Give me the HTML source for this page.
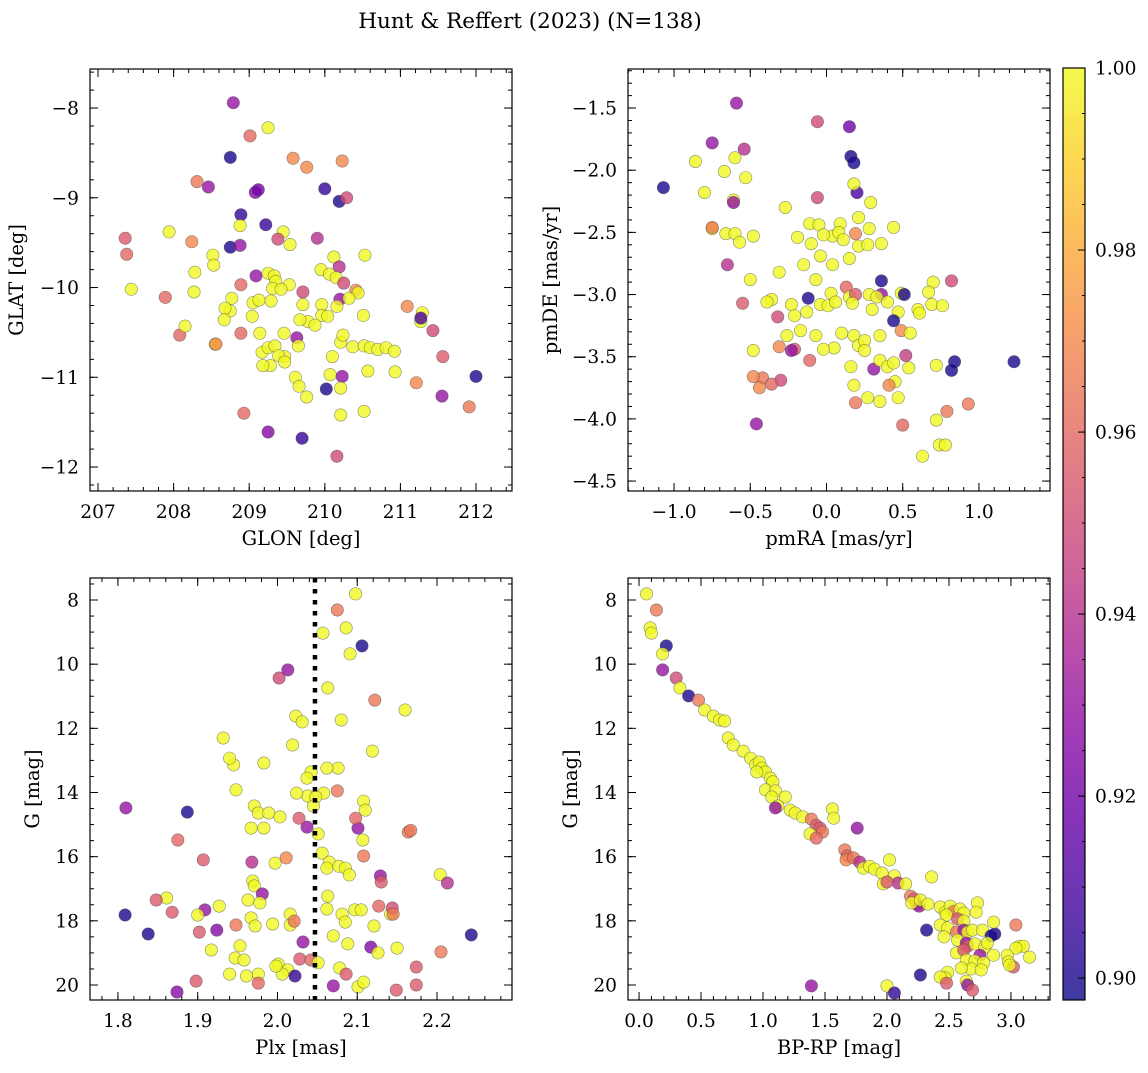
<!DOCTYPE html>
<html><head><meta charset="utf-8"><style>
html,body{margin:0;padding:0;background:#fff}
svg text{font-family:"DejaVu Serif","Liberation Serif",serif;fill:#000}
</style></head><body>
<svg id="fig" width="1148" height="1068" viewBox="0 0 1148 1068" xmlns="http://www.w3.org/2000/svg">
<defs><linearGradient id="cbgrad" x1="0" y1="1" x2="0" y2="0"></linearGradient></defs>
<text x="530" y="28" font-size="21.5" text-anchor="middle">Hunt &amp; Reffert (2023) (N=138)</text>
</svg>
<script>
// ---- data: top-left (GLON, GLAT) ----
const tlGlon=[208.79,209.01,209.25,208.75,209.58,209.76,210.23,208.31,208.46,209.08,209.12,210.00,210.19,210.29,208.89,209.22,207.36,207.38,207.44,207.94,208.24,208.75,208.88,208.88,209.45,209.38,209.54,209.90,208.52,208.53,208.28,209.09,208.89,209.25,209.33,209.35,209.53,209.31,209.42,210.12,210.19,209.95,210.06,210.15,210.25,210.53,210.41,210.44,207.89,208.27,208.77,208.75,208.68,208.67,209.05,209.04,209.13,209.29,209.71,209.71,209.78,209.96,209.96,210.20,210.32,210.16,210.51,208.08,208.15,208.55,208.89,209.14,209.46,209.67,209.87,210.04,211.09,211.29,211.27,211.27,211.43,208.56,209.17,209.25,209.34,209.47,209.28,209.39,209.63,209.65,210.21,210.24,210.10,210.37,210.52,210.60,210.70,210.81,210.92,211.56,209.18,209.47,209.61,210.07,210.23,210.57,210.93,209.66,209.76,210.02,210.21,211.21,212.00,208.93,210.21,210.52,211.55,211.91,209.25,209.70,210.16];
const tlGlat=[-7.94,-8.31,-8.22,-8.55,-8.56,-8.66,-8.59,-8.82,-8.88,-8.94,-8.91,-8.90,-9.04,-9.00,-9.19,-9.30,-9.45,-9.63,-10.02,-9.38,-9.49,-9.55,-9.53,-9.31,-9.38,-9.46,-9.52,-9.45,-9.64,-9.75,-9.83,-9.87,-9.97,-9.84,-9.87,-9.93,-9.97,-10.01,-10.02,-9.66,-9.77,-9.80,-9.85,-9.89,-9.95,-9.64,-10.03,-10.06,-10.11,-10.05,-10.12,-10.26,-10.23,-10.36,-10.17,-10.32,-10.14,-10.15,-10.05,-10.19,-10.38,-10.19,-10.31,-10.13,-10.12,-10.21,-10.31,-10.53,-10.43,-10.63,-10.51,-10.51,-10.51,-10.36,-10.42,-10.32,-10.21,-10.28,-10.38,-10.34,-10.48,-10.63,-10.72,-10.67,-10.65,-10.77,-10.87,-10.76,-10.56,-10.65,-10.61,-10.53,-10.77,-10.66,-10.65,-10.67,-10.69,-10.67,-10.71,-10.77,-10.87,-10.83,-11.00,-10.97,-10.99,-10.93,-10.94,-11.10,-11.22,-11.13,-11.12,-11.06,-10.99,-11.40,-11.42,-11.38,-11.21,-11.33,-11.61,-11.68,-11.88];
const tlProb=[.93,.96,1,.90,.97,.97,.97,.965,.93,.925,.92,.905,.90,.95,.905,.905,.955,.96,1,1,.97,.90,.93,1,1,.95,1,.94,1,1,1,.93,.96,1,1,1,1,1,1,1,.94,1,1,1,.95,1,.97,1,.96,1,1,1,1,1,1,1,1,1,.95,1,1,1,1,.93,1,1,1,.96,1,1,.96,1,1,1,1,1,.97,1,1,.91,.95,.97,1,1,1,1,1,1,.93,1,1,1,1,1,1,1,1,1,1,.955,1,1,1,1,.93,1,1,1,1,.90,1,.97,.90,.96,1,1,.93,.965,.925,.905,.95];
// ---- data: top-right (pmRA, pmDE) ----
const trPmra=[-0.59,-0.75,-1.07,-0.86,-0.80,-0.54,-0.60,-0.53,-0.67,-0.61,-0.06,0.15,0.16,0.18,0.20,0.18,-0.75,-0.48,-0.66,-0.60,-0.57,-0.61,-0.06,-0.27,-0.11,-0.05,-0.19,0.04,0.09,-0.10,-0.02,0.08,0.11,0.21,0.19,0.29,0.28,0.21,0.27,-0.75,-0.65,-0.50,-0.31,-0.15,-0.04,0.04,0.15,0.36,0.44,-0.55,-0.36,-0.12,0.03,-0.07,0.13,0.15,0.19,0.28,0.36,0.36,0.49,0.51,0.70,0.67,0.82,-0.39,-0.32,-0.23,-0.21,-0.13,-0.04,0.01,0.06,0.17,0.30,0.33,0.40,0.47,0.60,0.61,0.69,0.76,0.44,-0.17,-0.26,-0.07,0.10,0.18,0.21,0.25,0.35,0.49,0.55,-0.48,-0.31,-0.21,-0.23,0.05,-0.02,0.25,0.52,0.84,0.82,-0.30,-0.42,-0.11,0.16,0.31,0.35,0.40,0.44,0.45,0.54,0.72,-0.48,-0.44,-0.36,0.18,0.19,0.27,0.35,0.47,1.23,0.79,0.72,0.93,-0.46,0.50,0.74,0.78,0.63,0.41];
const trPmde=[-1.46,-1.78,-2.14,-1.93,-2.18,-1.83,-1.90,-2.06,-2.01,-2.24,-1.61,-1.65,-1.89,-1.94,-2.18,-2.11,-2.47,-2.53,-2.51,-2.51,-2.58,-2.26,-2.22,-2.30,-2.43,-2.44,-2.54,-2.53,-2.43,-2.59,-2.52,-2.50,-2.56,-2.38,-2.51,-2.26,-2.47,-2.61,-2.60,-2.46,-2.76,-2.88,-2.82,-2.76,-2.69,-2.76,-2.71,-2.59,-2.46,-3.07,-3.04,-3.03,-2.99,-2.88,-2.94,-3.02,-3.00,-3.00,-2.89,-3.00,-2.99,-3.00,-2.90,-2.98,-2.89,-3.06,-3.18,-3.08,-3.17,-3.14,-3.08,-3.09,-3.06,-3.07,-3.12,-3.02,-3.06,-3.14,-3.12,-3.15,-3.08,-3.09,-3.21,-3.29,-3.33,-3.33,-3.31,-3.33,-3.41,-3.37,-3.33,-3.29,-3.31,-3.45,-3.42,-3.44,-3.45,-3.43,-3.44,-3.45,-3.49,-3.54,-3.61,-3.69,-3.67,-3.53,-3.58,-3.60,-3.53,-3.58,-3.55,-3.70,-3.59,-3.57,-3.66,-3.75,-3.72,-3.73,-3.87,-3.83,-3.86,-3.83,-3.54,-3.94,-4.01,-3.88,-4.04,-4.05,-4.21,-4.21,-4.30,-3.73];
const trProb=[.93,.93,.90,1,1,.94,1,1,1,1,.95,.92,.90,.90,.91,1,1,1,1,1,1,.93,.95,1,1,1,1,1,1,1,1,1,1,1,.97,1,1,1,1,.965,.94,1,1,1,1,1,1,1,1,.955,1,.90,1,1,.96,1,.955,1,.90,.93,1,.90,1,1,.95,1,.95,1,1,1,1,1,1,1,1,1,1,1,1,1,1,1,.90,1,1,1,1,1,1,1,1,.97,1,1,.97,.955,.93,1,1,1,.945,.90,.90,.95,.965,.96,1,.93,1,1,1,1,1,1,.97,.97,.96,1,.965,1,1,1,.90,.965,1,.965,.93,.96,1,1,1,.97];
// ---- data: bottom-left (Plx, G) ----
const blPlx=[2.098,2.075,2.086,2.057,2.106,2.091,2.002,2.013,2.063,2.122,2.160,2.080,2.023,2.031,2.119,1.932,2.019,1.983,1.945,1.940,2.076,2.062,2.042,2.037,1.948,2.058,2.038,2.024,2.048,2.075,2.108,1.887,1.810,1.971,1.976,1.989,2.045,2.110,2.037,2.101,1.983,2.051,2.027,2.098,2.003,1.875,1.907,1.967,2.107,1.968,1.997,2.011,2.056,2.065,2.062,2.077,2.085,2.108,2.164,2.167,2.204,2.090,1.969,1.971,1.981,2.129,2.130,2.213,1.861,2.063,1.848,1.868,1.909,1.927,1.963,1.978,2.016,1.948,1.967,1.972,2.016,1.994,2.021,2.081,2.085,2.062,2.097,2.105,2.127,2.142,2.144,2.145,1.809,1.900,2.121,1.902,1.924,1.917,1.953,2.032,2.070,2.088,2.117,2.126,2.150,2.205,2.243,1.838,2.001,2.028,2.042,1.947,1.958,1.940,1.976,1.961,2.013,2.051,2.078,2.086,2.006,2.022,2.070,2.101,2.108,1.976,1.898,1.874,2.149,2.174,2.174,1.998];
const blG=[7.81,8.31,8.87,9.03,9.43,9.68,10.43,10.18,10.74,11.12,11.43,11.74,11.62,11.80,12.71,12.30,12.52,13.08,13.14,12.93,13.24,13.24,13.36,13.55,13.92,14.02,14.11,14.02,14.14,13.95,14.27,14.61,14.48,14.42,14.64,14.64,14.42,14.55,15.08,15.11,15.11,15.29,14.80,14.80,14.76,15.48,16.10,15.11,15.48,16.17,16.20,16.04,15.89,16.17,16.36,16.30,16.36,15.98,15.23,15.18,16.56,16.57,16.76,16.91,17.16,16.60,16.79,16.82,17.29,17.23,17.35,17.73,17.66,17.54,17.35,17.44,17.79,18.13,17.91,18.16,18.13,18.10,18.01,17.79,18.04,17.63,17.66,17.66,17.54,17.79,17.60,17.79,17.82,17.82,18.16,18.35,18.29,18.91,18.78,18.66,18.47,18.72,18.82,19.00,18.85,18.97,18.44,18.41,19.35,19.19,19.22,19.16,19.22,19.66,19.66,19.72,19.53,19.31,19.47,19.66,19.66,19.72,20.03,20.06,19.91,19.94,19.88,20.22,20.16,20.00,19.44,19.41];
const blProb=[1,.965,1,1,.90,1,.95,.93,1,.965,1,1,1,1,1,1,1,1,1,1,1,1,1,1,1,1,1,1,1,.965,1,.90,.93,1,1,1,1,1,.93,.93,1,1,.955,.96,1,.96,.955,1,1,.94,1,.97,1,1,1,1,1,.965,.965,.965,1,1,1,1,.93,.93,.955,.94,1,1,.955,.955,.93,1,1,1,1,.965,1,1,1,1,.965,1,1,1,1,1,.96,1,.95,.965,.90,1,1,.955,.925,1,1,.93,1,1,.925,1,1,.965,.90,.90,1,.955,.96,1,1,1,1,1,1,1,1,.955,1,.905,.93,1,1,.96,.955,.925,.955,.955,.955,1];
// ---- data: bottom-right (BP-RP, G) ----
const brBprp=[0.06,0.14,0.09,0.10,0.22,0.19,0.19,0.30,0.33,0.40,0.48,0.53,0.60,0.65,0.69,0.72,0.76,0.84,0.90,0.94,0.97,0.99,1.02,0.95,1.06,1.08,1.02,1.10,1.07,1.18,1.12,1.10,1.22,1.26,1.32,1.39,1.56,1.57,1.43,1.46,1.48,1.38,1.43,1.76,1.66,1.68,1.67,1.73,1.78,1.81,1.86,1.90,1.96,2.02,2.06,2.09,1.97,2.00,2.15,2.36,2.19,2.22,2.24,2.26,2.20,2.27,2.33,2.43,2.47,2.51,2.54,2.59,2.62,2.73,2.48,2.57,2.62,2.72,2.43,2.49,2.56,2.62,2.65,2.69,2.77,2.87,2.84,2.86,3.04,2.32,2.46,2.57,2.64,2.65,2.71,2.79,2.81,3.07,3.10,3.04,2.56,2.62,2.75,2.86,2.97,3.15,2.64,2.71,2.78,2.98,3.02,2.99,2.68,2.76,2.49,2.60,2.47,2.43,2.27,2.48,2.64,2.65,2.69,2.00,2.06,1.39];
const brG=[7.81,8.31,8.87,9.03,9.43,9.68,10.18,10.43,10.74,10.99,11.12,11.43,11.62,11.74,11.77,12.30,12.52,12.71,12.93,13.14,13.05,13.24,13.36,13.36,13.55,13.67,13.92,13.95,14.14,14.14,14.42,14.48,14.55,14.64,14.76,14.83,14.51,14.80,15.02,15.11,15.23,15.29,15.42,15.11,15.79,15.98,16.10,16.04,16.17,16.36,16.30,16.39,16.51,16.10,16.60,16.82,16.85,16.79,16.85,16.63,17.23,17.32,17.48,17.54,17.44,17.35,17.48,17.57,17.73,17.54,17.70,17.63,17.76,17.44,17.82,17.94,18.01,17.73,18.13,18.22,18.35,18.29,18.35,18.29,18.29,18.41,18.47,18.04,18.13,18.29,18.50,18.60,18.69,18.79,18.72,18.82,18.69,18.79,18.79,18.85,19.00,18.91,19.07,19.07,19.07,19.13,19.22,19.25,19.31,19.28,19.44,19.38,19.50,19.53,19.60,19.47,19.78,19.75,19.69,19.94,19.88,20.00,20.16,20.03,20.25,20.03];
const brProb=[1,.965,1,1,.90,1,.93,.95,1,.90,.965,1,1,1,1,1,1,1,1,1,1,1,1,1,1,1,1,1,1,1,1,.93,1,1,1,.965,1,1,.955,.955,.965,1,.96,.93,.965,.96,.97,.965,.94,1,1,1,1,1,1,.94,1,.955,1,1,.965,.955,.965,.93,1,1,1,1,1,1,.965,1,1,1,1,.955,1,1,1,1,.965,.93,1,1,1,.90,.90,1,.965,.90,1,1,.93,.955,1,1,1,1,1,1,1,.955,.93,1,1,1,1,1,1,1,.955,1,1,1,1,1,1,1,.90,.955,1,.93,.955,1,.905,.93];
// ---- colorbar ticks ----
const cbTicks=[0.90,0.92,0.94,0.96,0.98,1.00];
const vmin=0.8976, vmax=1.0;

const NS='http://www.w3.org/2000/svg';
const svg=document.getElementById('fig');
function mk(tag,attrs,parent){const e=document.createElementNS(NS,tag);for(const k in attrs)e.setAttribute(k,attrs[k]);(parent||svg).appendChild(e);return e;}
const plasma=[[13,8,135],[65,4,157],[106,0,168],[143,13,164],[177,42,144],[204,71,120],[225,100,98],[242,132,75],[252,166,54],[252,206,37],[240,249,33]];
function cmap(t){t=Math.max(0,Math.min(1,t));const s=t*10,i=Math.min(9,Math.floor(s)),f=s-i;const a=plasma[i],b=plasma[i+1];return 'rgb('+a.map((v,k)=>Math.round(v+(b[k]-v)*f)).join(',')+')';}
const FS=18.6, FL=19.4;
function panel(cfg){
  const g=mk('g',{});
  
  
  const {x0,y0,w,h,xr,yr,inv}=cfg;
  const sx=v=>x0+(v-xr[0])/(xr[1]-xr[0])*w;
  const sy=inv?(v=>y0+(v-yr[0])/(yr[1]-yr[0])*h):(v=>y0+h-(v-yr[0])/(yr[1]-yr[0])*h);
  const pg=mk('g',{},g);
  
  
  for(let i=0;i<cfg.xs.length;i++){
    const c=mk('circle',{cx:sx(cfg.xs[i]).toFixed(1),cy:sy(cfg.ys[i]).toFixed(1),r:6.2,fill:cmap((cfg.ps[i]-vmin)/(vmax-vmin)),'fill-opacity':0.8,stroke:'#444','stroke-opacity':0.6,'stroke-width':0.6},pg);
    
    
  }
  if(cfg.vline!==undefined){
    const l=mk('line',{x1:sx(cfg.vline),x2:sx(cfg.vline),y1:y0,y2:y0+h,stroke:'#000','stroke-width':4.5,'stroke-dasharray':'4.5,6.5'},g);
    
    
  }
  const fr=mk('rect',{x:x0,y:y0,width:w,height:h,fill:'none',stroke:'#000','stroke-width':1.2},g);
  
  
  const eps=1e-9;
  function ticks(axis,step,len,labels,dec){
    const r=axis==='x'?xr:yr;
    const lo=Math.min(r[0],r[1]),hi=Math.max(r[0],r[1]);
    for(let k=Math.ceil(lo/step-eps);k*step<=hi+eps;k++){
      const v=k*step;
      if(axis==='x'){const X=sx(v);mk('line',{x1:X,x2:X,y1:y0+h,y2:y0+h-len,stroke:'#000','stroke-width':1},g);mk('line',{x1:X,x2:X,y1:y0,y2:y0+len,stroke:'#000','stroke-width':1},g);
        if(labels){const t=mk('text',{x:X,y:y0+h+27,'font-size':FS,'text-anchor':'middle'},g);t.textContent=fmt(v,dec);}}
      else{const Y=sy(v);mk('line',{x1:x0,x2:x0+len,y1:Y,y2:Y,stroke:'#000','stroke-width':1},g);mk('line',{x1:x0+w,x2:x0+w-len,y1:Y,y2:Y,stroke:'#000','stroke-width':1},g);
        if(labels){const t=mk('text',{x:x0-11,y:Y+6.5,'font-size':FS,'text-anchor':'end'},g);t.textContent=fmt(v,dec);}}
    }
  }
  ticks('x',cfg.xmaj,8,true,cfg.xdec);ticks('x',cfg.xmin,4,false);
  ticks('y',cfg.ymaj,8,true,cfg.ydec);ticks('y',cfg.ymin,4,false);
  const xl=mk('text',{x:x0+w/2,y:y0+h+54,'font-size':FL,'text-anchor':'middle'},g);xl.textContent=cfg.xlabel;
  
  const yx=cfg.ylx, yy=y0+h/2;
  const yl=mk('text',{x:yx,y:yy,'font-size':FL,'text-anchor':'middle',transform:'rotate(-90 '+yx+' '+yy+')'},g);yl.textContent=cfg.ylabel;
  
}
function fmt(v,d){const s=Math.abs(v)<1e-9?(0).toFixed(d):v.toFixed(d);return s.replace('-','\u2212');}

panel({name:'glon-glat-panel',x0:90,y0:69,w:422,h:422,xr:[206.894,212.476],yr:[-12.267,-7.565],xs:tlGlon,ys:tlGlat,ps:tlProb,xmaj:1,xmin:0.2,ymaj:1,ymin:0.2,xdec:0,ydec:0,xlabel:'GLON [deg]',ylabel:'GLAT [deg]',ylx:23});
panel({name:'proper-motion-panel',x0:628,y0:69,w:422,h:422,xr:[-1.302,1.466],yr:[-4.580,-1.186],xs:trPmra,ys:trPmde,ps:trProb,xmaj:0.5,xmin:0.1,ymaj:0.5,ymin:0.1,xdec:1,ydec:1,xlabel:'pmRA [mas/yr]',ylabel:'pmDE [mas/yr]',ylx:557});
panel({name:'parallax-mag-panel',x0:90,y0:578,w:422,h:422,xr:[1.765,2.294],yr:[7.314,20.468],inv:true,xs:blPlx,ys:blG,ps:blProb,xmaj:0.1,xmin:0.02,ymaj:2,ymin:0.5,xdec:1,ydec:0,xlabel:'Plx [mas]',ylabel:'G [mag]',ylx:39,vline:2.047});
panel({name:'cmd-panel',x0:628,y0:578,w:422,h:422,xr:[-0.089,3.315],yr:[7.314,20.468],inv:true,xs:brBprp,ys:brG,ps:brProb,xmaj:0.5,xmin:0.1,ymaj:2,ymin:0.5,xdec:1,ydec:0,xlabel:'BP-RP [mag]',ylabel:'G [mag]',ylx:577});

const grad=document.getElementById('cbgrad');
for(let i=0;i<=20;i++){mk('stop',{offset:(i/20),'stop-color':cmap(i/20)},grad);}
const cg=mk('g',{});


const cbx=1063,cby=68,cbw=22,cbh=932;
mk('rect',{x:cbx,y:cby,width:cbw,height:cbh,fill:'url(#cbgrad)','fill-opacity':0.8},cg);
mk('rect',{x:cbx,y:cby,width:cbw,height:cbh,fill:'none',stroke:'#000','stroke-width':1.2},cg);
const cy=v=>cby+cbh-(v-vmin)/(vmax-vmin)*cbh;
for(let v=0.9;v<=1.0001;v+=0.005){const Y=cy(v);mk('line',{x1:cbx+cbw,x2:cbx+cbw-3,y1:Y,y2:Y,stroke:'#000','stroke-width':1},cg);}
cbTicks.forEach(v=>{const Y=cy(v);mk('line',{x1:cbx+cbw,x2:cbx+cbw-7,y1:Y,y2:Y,stroke:'#000','stroke-width':1},cg);
  const t=mk('text',{x:cbx+cbw+10,y:Y+6.5,'font-size':FS},cg);t.textContent=v.toFixed(2);
  });
</script>
</body></html>
